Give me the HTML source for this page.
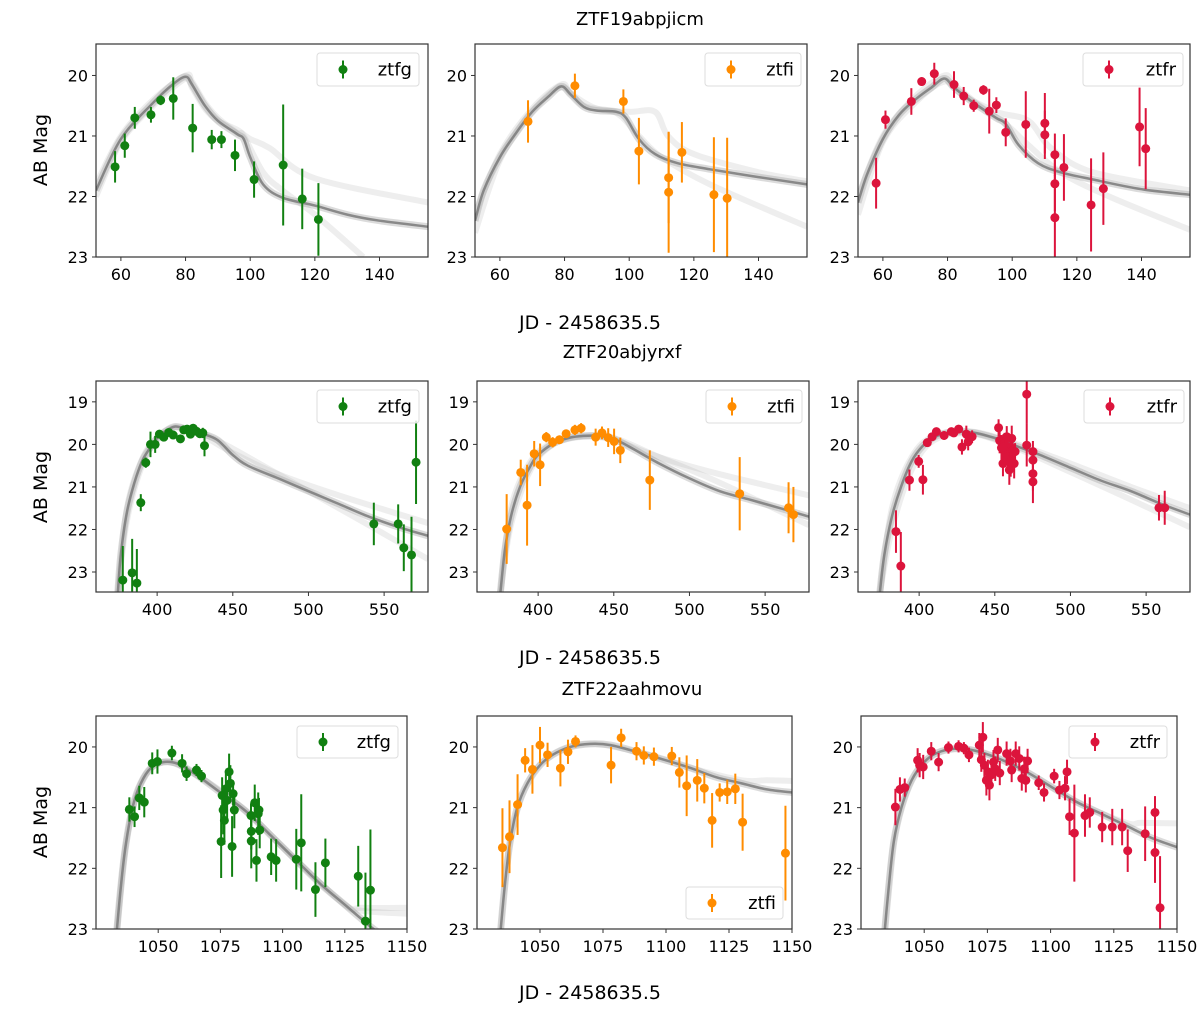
<!DOCTYPE html>
<html><head><meta charset="utf-8"><style>
body{margin:0;background:#fff;}
svg text{font-family:"DejaVu Sans","Liberation Sans",sans-serif;fill:#000;}
</style></head><body>
<svg id="fig" width="1200" height="1005" viewBox="0 0 1200 1005" xmlns="http://www.w3.org/2000/svg">
<text x="640" y="25" font-size="18" text-anchor="middle">ZTF19abpjicm</text>
<text x="590" y="329" font-size="19" text-anchor="middle">JD - 2458635.5</text>
<text x="622" y="358" font-size="18" text-anchor="middle">ZTF20abjyrxf</text>
<text x="590" y="664" font-size="19" text-anchor="middle">JD - 2458635.5</text>
<text x="632" y="695" font-size="18" text-anchor="middle">ZTF22aahmovu</text>
<text x="590" y="999" font-size="19" text-anchor="middle">JD - 2458635.5</text>
<text transform="translate(47,150) rotate(-90)" font-size="19" text-anchor="middle">AB Mag</text>
<text transform="translate(47,487) rotate(-90)" font-size="19" text-anchor="middle">AB Mag</text>
<text transform="translate(47,822) rotate(-90)" font-size="19" text-anchor="middle">AB Mag</text>
</svg>
<script>
// ---- Row 1: ZTF19abpjicm ----
const r1gX=[58.2,61.2,64.3,69.3,72.3,76.2,82.2,88.1,91.1,95.3,101.2,110.2,116.1,121.1];
const r1gMag=[21.51,21.16,20.70,20.65,20.41,20.38,20.87,21.06,21.06,21.32,21.72,21.48,22.04,22.38];
const r1gErr=[0.26,0.2,0.18,0.13,0.08,0.35,0.4,0.16,0.14,0.26,0.3,1.0,0.5,0.6];
const r1gModelX=[52.3,60,70,76,80,82,86,90,96,98,100,104,110,120,130,140,155];
const r1gModelMag=[21.9,21.05,20.45,20.15,20.02,20.15,20.5,20.75,20.97,21.05,21.35,21.8,22.02,22.15,22.3,22.4,22.5];
const r1gAltX=[52.3,60,70,80,82,86,90,96,98,104,110,120,135];
const r1gAltMag=[21.8,21.0,20.4,20.0,20.1,20.45,20.7,20.95,21.0,21.6,21.9,22.3,23.0];
const r1gAlt2X=[52.3,60,70,80,82,86,90,96,100,106,120,155];
const r1gAlt2Mag=[22.0,21.1,20.5,20.05,20.2,20.55,20.75,20.9,21.05,21.2,21.7,22.1];

const r1iX=[68.7,83.2,98.2,103.0,112.2,112.2,116.3,126.2,130.3];
const r1iMag=[20.76,20.17,20.43,21.25,21.69,21.93,21.27,21.97,22.03];
const r1iErr=[0.35,0.2,0.2,0.55,0.75,1.0,0.5,0.95,1.0];
const r1iModelX=[52.3,55,60,65,70,75,79,82,86,90,96,99,103,108,115,125,140,155];
const r1iModelMag=[22.4,21.9,21.35,20.95,20.6,20.35,20.18,20.32,20.52,20.58,20.6,20.7,21.05,21.3,21.45,21.55,21.68,21.8];
const r1iAltX=[52.3,60,70,79,82,90,100,108,112,120,140,155];
const r1iAltMag=[22.3,21.3,20.55,20.15,20.3,20.55,20.6,20.6,21.0,21.3,21.6,21.75];
const r1iAlt2X=[52.3,60,70,79,86,96,103,110,125,155];
const r1iAlt2Mag=[22.6,21.4,20.6,20.2,20.5,20.62,21.0,21.35,21.8,22.5];

const r1rX=[57.9,60.8,68.8,72.0,75.9,82.0,85.0,88.1,91.1,92.9,95.1,98.0,104.2,110.1,110.1,113.2,113.2,113.2,116.0,124.4,128.2,139.4,141.3];
const r1rMag=[21.78,20.73,20.43,20.1,19.97,20.15,20.34,20.5,20.24,20.59,20.49,20.94,20.81,20.79,20.98,21.31,21.79,22.35,21.52,22.14,21.87,20.85,21.21];
const r1rErr=[0.42,0.15,0.22,0.07,0.18,0.22,0.15,0.1,0.08,0.37,0.13,0.23,0.55,0.5,0.4,0.35,0.45,0.7,0.55,0.77,0.6,0.65,0.67];
const r1rModelX=[52.3,55,60,65,70,75,79,82,88,95,98,102,108,115,125,140,155];
const r1rModelMag=[22.1,21.65,21.05,20.65,20.4,20.2,20.05,20.2,20.45,20.7,20.8,21.15,21.45,21.6,21.72,21.88,21.97];
const r1rAltX=[52.3,60,70,79,82,90,98,105,115,130,155];
const r1rAltMag=[22.0,21.0,20.35,20.0,20.15,20.5,20.8,21.15,21.6,22.0,22.55];
const r1rAlt2X=[52.3,60,70,79,84,95,105,112,125,155];
const r1rAlt2Mag=[22.3,21.1,20.45,20.1,20.3,20.6,20.75,21.2,21.6,21.9];

// ---- Row 2: ZTF20abjyrxf ----
const r2gX=[377.3,383.5,386.6,389.2,392.5,395.6,398.7,401.5,404.4,407.7,410.6,415.4,417.6,419.8,422.0,423.8,426.0,428.2,430.2,431.3,543.2,559.3,563.0,568.1,571.1];
const r2gMag=[23.19,23.02,23.26,21.37,20.43,20.0,20.0,19.76,19.83,19.72,19.78,19.87,19.66,19.64,19.76,19.62,19.69,19.75,19.73,20.03,21.87,21.87,22.43,22.6,20.42];
const r2gErr=[0.8,0.8,0.8,0.2,0.12,0.3,0.2,0.1,0.1,0.07,0.07,0.07,0.07,0.07,0.1,0.1,0.1,0.1,0.12,0.25,0.5,0.46,0.55,0.9,0.98];
const r2gModelX=[374,376,380,385,390,395,400,405,412,420,430,440,450,460,480,500,520,540,560,579];
const r2gModelMag=[23.5,22.6,21.6,20.9,20.4,20.1,19.85,19.7,19.58,19.65,19.75,19.9,20.25,20.5,20.8,21.1,21.4,21.7,21.95,22.15];
const r2gAltX=[374,380,390,400,412,430,450,470,500,540,579];
const r2gAltMag=[23.5,21.5,20.35,19.85,19.6,19.75,20.1,20.5,21.1,21.9,22.7];
const r2gAlt2X=[374,380,390,400,412,430,450,480,520,579];
const r2gAlt2Mag=[23.5,21.8,20.5,19.9,19.6,19.8,20.2,20.7,21.2,21.85];

const r2iX=[379.2,388.5,392.7,397.4,401.3,405.4,409.6,414.1,418.5,424.3,428.4,438.0,442.2,446.3,450.2,454.3,473.8,533.2,565.5,568.7];
const r2iMag=[21.99,20.66,21.43,20.22,20.48,19.83,19.95,19.89,19.75,19.66,19.62,19.83,19.73,19.84,19.93,20.14,20.84,21.16,21.49,21.65];
const r2iErr=[0.82,0.3,0.95,0.3,0.5,0.12,0.12,0.1,0.1,0.12,0.12,0.2,0.15,0.22,0.3,0.3,0.7,0.86,0.6,0.65];
const r2iModelX=[375,378,382,388,395,400,410,420,430,440,450,460,480,500,520,540,560,579];
const r2iModelMag=[23.5,22.5,21.7,21.0,20.5,20.25,19.98,19.85,19.8,19.8,19.87,20.05,20.45,20.8,21.1,21.3,21.5,21.7];
const r2iAltX=[375,382,395,410,430,450,480,520,579];
const r2iAltMag=[23.5,21.5,20.4,19.95,19.8,19.85,20.3,20.9,21.9];
const r2iAlt2X=[375,382,395,410,430,450,480,520,579];
const r2iAlt2Mag=[23.5,21.9,20.6,20.0,19.82,19.9,20.3,20.7,21.2];

const r2rX=[384.7,387.9,393.6,399.7,402.5,405.4,408.6,411.4,416.5,421.3,422.9,426.1,428.3,431.2,432.4,435.0,452.5,453.2,454.4,455.4,456.4,457.3,458.6,459.6,460.2,461.2,461.8,462.8,463.4,455.7,457.9,460.5,471.1,471.1,475.2,475.2,475.2,475.2,558.5,562.3];
const r2rMag=[22.05,22.86,20.84,20.4,20.83,19.96,19.82,19.7,19.79,19.7,19.73,19.64,20.06,19.76,19.94,19.82,19.61,19.91,20.08,20.45,19.98,20.17,20.29,20.6,20.06,19.86,20.14,20.45,20.17,20.06,19.82,20.41,18.82,20.02,20.17,20.37,20.69,20.88,21.49,21.49];
const r2rErr=[0.5,0.8,0.25,0.15,0.35,0.1,0.08,0.07,0.1,0.08,0.08,0.08,0.18,0.2,0.2,0.15,0.2,0.3,0.3,0.3,0.25,0.3,0.4,0.35,0.25,0.3,0.3,0.35,0.2,0.3,0.25,0.35,0.7,0.5,0.25,0.25,0.4,0.5,0.3,0.4];
const r2rModelX=[374,377,382,388,395,402,410,420,435,450,465,480,500,520,540,560,579];
const r2rModelMag=[23.5,22.6,21.7,21.0,20.4,20.05,19.83,19.72,19.72,19.85,20.05,20.25,20.55,20.85,21.1,21.4,21.65];
const r2rAltX=[374,382,395,410,435,465,500,540,579];
const r2rAltMag=[23.5,21.5,20.3,19.8,19.7,20.0,20.45,21.0,21.5];
const r2rAlt2X=[374,382,395,410,435,465,500,540,579];
const r2rAlt2Mag=[23.5,22.0,20.6,19.9,19.75,20.1,20.65,21.3,21.95];

// ---- Row 3: ZTF22aahmovu ----
const r3gX=[1038.4,1040.5,1042.4,1044.4,1047.6,1049.7,1055.5,1059.6,1061.4,1065.4,1067.4,1075.3,1075.7,1076.1,1076.6,1077.2,1077.7,1078.5,1079.0,1079.7,1080.1,1080.6,1087.3,1087.4,1087.4,1088.8,1089.5,1090.2,1090.8,1090.5,1095.4,1097.4,1105.5,1107.5,1113.2,1117.2,1130.4,1133.3,1135.3];
const r3gMag=[21.03,21.15,20.84,20.91,20.27,20.24,20.1,20.27,20.44,20.38,20.48,21.56,20.8,21.04,21.21,20.69,20.88,20.41,20.6,21.64,20.77,21.04,21.13,21.39,21.55,20.92,21.87,21.1,21.37,21.04,21.81,21.87,21.85,21.58,22.35,21.91,22.13,22.87,22.36];
const r3gErr=[0.2,0.17,0.2,0.25,0.18,0.2,0.12,0.15,0.12,0.1,0.1,0.6,0.3,0.4,0.4,0.3,0.3,0.3,0.3,0.5,0.2,0.3,0.2,0.3,0.45,0.3,0.35,0.35,0.3,0.2,0.3,0.35,0.5,0.8,0.45,0.4,0.5,0.8,1.0];
const r3gModelX=[1033,1035,1037,1040,1043,1047,1052,1058,1065,1075,1085,1095,1105,1115,1125,1135,1140,1145];
const r3gModelMag=[23.2,22.3,21.6,20.95,20.6,20.35,20.25,20.28,20.45,20.75,21.05,21.45,21.85,22.25,22.6,22.95,23.1,23.25];
const r3gAltX=[1033,1037,1043,1052,1065,1085,1105,1125,1132,1150];
const r3gAltMag=[23.2,21.6,20.6,20.25,20.45,21.05,21.85,22.6,22.7,22.75];
const r3gAlt2X=[1033,1037,1043,1052,1065,1085,1105,1125,1132,1150];
const r3gAlt2Mag=[23.2,21.6,20.6,20.25,20.45,21.05,21.85,22.6,22.65,22.65];

const r3iX=[1035.1,1037.9,1041.1,1044.1,1047.0,1050.0,1053.0,1058.1,1061.1,1064.1,1078.2,1082.2,1088.3,1091.2,1095.2,1102.3,1105.3,1108.2,1112.4,1115.2,1118.3,1121.3,1124.3,1127.5,1130.4,1147.4];
const r3iMag=[21.66,21.48,20.95,20.22,20.37,19.97,20.13,20.35,20.08,19.91,20.3,19.85,20.07,20.14,20.16,20.15,20.42,20.64,20.55,20.68,21.21,20.75,20.74,20.69,21.24,21.75];
const r3iErr=[0.65,0.6,0.5,0.2,0.4,0.3,0.2,0.3,0.2,0.1,0.3,0.15,0.15,0.15,0.15,0.15,0.25,0.5,0.35,0.25,0.45,0.15,0.2,0.25,0.47,0.78];
const r3iModelX=[1034,1036,1038,1041,1045,1050,1055,1062,1070,1078,1090,1100,1110,1120,1130,1140,1150];
const r3iModelMag=[23.2,22.3,21.6,21.0,20.6,20.3,20.13,20.0,19.95,19.97,20.1,20.22,20.35,20.5,20.6,20.7,20.75];
const r3iAltX=[1034,1038,1045,1055,1070,1090,1110,1130,1140,1150];
const r3iAltMag=[23.2,21.6,20.6,20.13,19.95,20.1,20.35,20.55,20.55,20.56];

const r3rX=[1038.6,1040.4,1042.3,1047.4,1048.2,1049.6,1052.8,1055.7,1059.6,1063.6,1065.7,1067.7,1071.8,1072.6,1073.2,1073.8,1074.6,1075.2,1075.8,1076.6,1077.4,1078.1,1079.1,1079.9,1082.6,1084.1,1084.6,1086.2,1087.6,1088.6,1089.6,1090.2,1090.9,1095.3,1097.4,1101.4,1103.5,1105.7,1106.5,1107.5,1109.4,1113.6,1115.5,1120.4,1124.4,1128.3,1130.5,1137.4,1141.3,1141.3,1143.3];
const r3rMag=[20.99,20.7,20.67,20.22,20.3,20.33,20.07,20.25,20.01,19.99,20.02,20.13,19.97,20.21,19.84,20.3,20.55,20.41,20.63,20.46,20.25,20.36,20.05,20.43,20.11,20.23,20.38,20.11,20.19,20.52,20.36,20.55,20.23,20.59,20.75,20.48,20.71,20.68,20.41,21.15,21.42,21.13,21.08,21.32,21.32,21.32,21.71,21.43,21.08,21.74,22.65];
const r3rErr=[0.3,0.2,0.15,0.2,0.2,0.2,0.15,0.15,0.1,0.1,0.1,0.12,0.2,0.2,0.25,0.2,0.25,0.2,0.25,0.2,0.2,0.2,0.2,0.2,0.2,0.2,0.2,0.2,0.2,0.2,0.2,0.2,0.2,0.12,0.15,0.12,0.15,0.2,0.2,0.3,0.8,0.35,0.25,0.25,0.3,0.3,0.35,0.45,0.27,0.5,0.85];
const r3rModelX=[1034,1036,1038,1041,1045,1050,1055,1062,1070,1080,1090,1100,1110,1120,1130,1140,1150];
const r3rModelMag=[23.2,22.3,21.55,21.0,20.55,20.25,20.1,20.03,20.06,20.2,20.4,20.65,20.9,21.1,21.3,21.5,21.65];
const r3rAltX=[1034,1038,1045,1055,1070,1090,1110,1130,1136,1150];
const r3rAltMag=[23.2,21.55,20.55,20.1,20.06,20.4,20.9,21.25,21.25,21.26];

const xTicks1=[60,80,100,120,140];
const xTicks2=[400,450,500,550];
const xTicks3=[1050,1075,1100,1125,1150];
const yTicks1=[20,21,22,23];
const yTicks2=[19,20,21,22,23];

const NS='http://www.w3.org/2000/svg';
const svg=document.getElementById('fig');
function mk(tag,attrs,parent){const e=document.createElementNS(NS,tag);for(const k in attrs)e.setAttribute(k,attrs[k]);(parent||svg).appendChild(e);return e;}

const panels=[
 {id:'r1-ztfg',box:[96,428,44,257],xlim:[52.3,155],ylim:[19.48,23],xt:xTicks1,yt:yTicks1,c:'#118011',lab:'ztfg',leg:[317,53,102,33],x:r1gX,m:r1gMag,e:r1gErr,mx:r1gModelX,mm:r1gModelMag,alts:[[r1gAltX,r1gAltMag],[r1gAlt2X,r1gAlt2Mag]]},
 {id:'r1-ztfi',box:[475,807,44,257],xlim:[52.3,155],ylim:[19.48,23],xt:xTicks1,yt:yTicks1,c:'#ff8c00',lab:'ztfi',leg:[705,53,96,33],x:r1iX,m:r1iMag,e:r1iErr,mx:r1iModelX,mm:r1iModelMag,alts:[[r1iAltX,r1iAltMag],[r1iAlt2X,r1iAlt2Mag]]},
 {id:'r1-ztfr',box:[858,1190,44,257],xlim:[52.3,155],ylim:[19.48,23],xt:xTicks1,yt:yTicks1,c:'#dc143c',lab:'ztfr',leg:[1083,53,100,33],x:r1rX,m:r1rMag,e:r1rErr,mx:r1rModelX,mm:r1rModelMag,alts:[[r1rAltX,r1rAltMag],[r1rAlt2X,r1rAlt2Mag]]},
 {id:'r2-ztfg',box:[96,428,381,592],xlim:[359.6,579],ylim:[18.51,23.47],xt:xTicks2,yt:yTicks2,c:'#118011',lab:'ztfg',leg:[317,390,102,33],x:r2gX,m:r2gMag,e:r2gErr,mx:r2gModelX,mm:r2gModelMag,alts:[[r2gAltX,r2gAltMag],[r2gAlt2X,r2gAlt2Mag]]},
 {id:'r2-ztfi',box:[477,809,381,592],xlim:[359.6,579],ylim:[18.51,23.47],xt:xTicks2,yt:yTicks2,c:'#ff8c00',lab:'ztfi',leg:[706,390,96,33],x:r2iX,m:r2iMag,e:r2iErr,mx:r2iModelX,mm:r2iModelMag,alts:[[r2iAltX,r2iAltMag],[r2iAlt2X,r2iAlt2Mag]]},
 {id:'r2-ztfr',box:[858,1190,381,592],xlim:[359.6,579],ylim:[18.51,23.47],xt:xTicks2,yt:yTicks2,c:'#dc143c',lab:'ztfr',leg:[1084,390,100,33],x:r2rX,m:r2rMag,e:r2rErr,mx:r2rModelX,mm:r2rModelMag,alts:[[r2rAltX,r2rAltMag],[r2rAlt2X,r2rAlt2Mag]]},
 {id:'r3-ztfg',box:[96,407,716,929],xlim:[1025,1150],ylim:[19.49,23],xt:xTicks3,yt:yTicks1,c:'#118011',lab:'ztfg',leg:[297,726,101,32],x:r3gX,m:r3gMag,e:r3gErr,mx:r3gModelX,mm:r3gModelMag,alts:[[r3gAltX,r3gAltMag],[r3gAlt2X,r3gAlt2Mag]]},
 {id:'r3-ztfi',box:[477,792,716,929],xlim:[1025,1150],ylim:[19.49,23],xt:xTicks3,yt:yTicks1,c:'#ff8c00',lab:'ztfi',leg:[686,887,97,32],x:r3iX,m:r3iMag,e:r3iErr,mx:r3iModelX,mm:r3iModelMag,alts:[[r3iAltX,r3iAltMag]]},
 {id:'r3-ztfr',box:[861,1177,716,929],xlim:[1025,1150],ylim:[19.49,23],xt:xTicks3,yt:yTicks1,c:'#dc143c',lab:'ztfr',leg:[1069,726,98,32],x:r3rX,m:r3rMag,e:r3rErr,mx:r3rModelX,mm:r3rModelMag,alts:[[r3rAltX,r3rAltMag]]}
];

function smooth(pts){
 let d='M'+pts[0][0].toFixed(1)+' '+pts[0][1].toFixed(1);
 for(let i=0;i<pts.length-1;i++){
  const p0=pts[i-1]||pts[i],p1=pts[i],p2=pts[i+1],p3=pts[i+2]||p2;
  const c1x=p1[0]+(p2[0]-p0[0])/6,c1y=p1[1]+(p2[1]-p0[1])/6;
  const c2x=p2[0]-(p3[0]-p1[0])/6,c2y=p2[1]-(p3[1]-p1[1])/6;
  d+=' C'+c1x.toFixed(1)+' '+c1y.toFixed(1)+' '+c2x.toFixed(1)+' '+c2y.toFixed(1)+' '+p2[0].toFixed(1)+' '+p2[1].toFixed(1);
 }
 return d;
}

panels.forEach((p,pi)=>{
 const [x0,x1,y0,y1]=p.box;
 const sx=v=>x0+(v-p.xlim[0])/(p.xlim[1]-p.xlim[0])*(x1-x0);
 const sy=v=>y0+(v-p.ylim[0])/(p.ylim[1]-p.ylim[0])*(y1-y0);
 const g=mk('g',{});
 
 
 const defs=mk('defs',{},g);
 const cp=mk('clipPath',{id:'clip'+pi},defs);
 mk('rect',{x:x0,y:y0,width:x1-x0,height:y1-y0},cp);
 const plot=mk('g',{'clip-path':'url(#clip'+pi+')'},g);
 const path=(xs,ms)=>smooth(xs.map((v,i)=>[sx(v),sy(ms[i])]));
 p.alts.forEach(a=>{
  const l=mk('path',{d:path(a[0],a[1]),fill:'none',stroke:'#aaa','stroke-width':6,'stroke-opacity':0.2,'stroke-linejoin':'round'},plot);
  
  
 });
 const halo=mk('path',{d:path(p.mx,p.mm),fill:'none',stroke:'#999','stroke-width':7,'stroke-opacity':0.35,'stroke-linejoin':'round'},plot);
 
 
 const main=mk('path',{d:path(p.mx,p.mm),fill:'none',stroke:'#7a7a7a','stroke-width':2.5,'stroke-opacity':0.85,'stroke-linejoin':'round'},plot);
 
 
 p.x.forEach((v,i)=>{
  const cx=sx(v),cy=sy(p.m[i]);
  const eb=mk('line',{x1:cx,x2:cx,y1:sy(p.m[i]-p.e[i]),y2:sy(p.m[i]+p.e[i]),stroke:p.c,'stroke-width':2},plot);
  
  
  const pt=mk('circle',{cx:cx,cy:cy,r:4.5,fill:p.c},plot);
  
  
 });
 const fr=mk('rect',{x:x0,y:y0,width:x1-x0,height:y1-y0,fill:'none',stroke:'#333','stroke-width':1.2},g);
 
 
 p.xt.forEach(t=>{
  const X=sx(t);
  mk('line',{x1:X,x2:X,y1:y1,y2:y1+4,stroke:'#333','stroke-width':1},g);
  const tx=mk('text',{x:X,y:y1+23,'font-size':16,'font-weight':500,'text-anchor':'middle'},g);
  tx.textContent=t;
  
  
 });
 p.yt.forEach(t=>{
  const Y=sy(t);
  mk('line',{x1:x0-4,x2:x0,y1:Y,y2:Y,stroke:'#333','stroke-width':1},g);
  const tx=mk('text',{x:x0-8,y:Y+6,'font-size':16,'font-weight':500,'text-anchor':'end'},g);
  tx.textContent=t;
  
  
 });
 const [lx,ly,lw,lh]=p.leg;
 const lg=mk('g',{},g);
 
 
 mk('rect',{x:lx,y:ly,width:lw,height:lh,rx:3,fill:'#fff','fill-opacity':0.85,stroke:'#ddd','stroke-width':1},lg);
 mk('line',{x1:lx+26,x2:lx+26,y1:ly+lh/2-9,y2:ly+lh/2+9,stroke:p.c,'stroke-width':2},lg);
 mk('circle',{cx:lx+26,cy:ly+lh/2,r:4.5,fill:p.c},lg);
 const lt=mk('text',{x:lx+lw-7,y:ly+lh/2+6,'font-size':18,'text-anchor':'end'},lg);
 lt.textContent=p.lab;
 
 
});
</script>
</body></html>
